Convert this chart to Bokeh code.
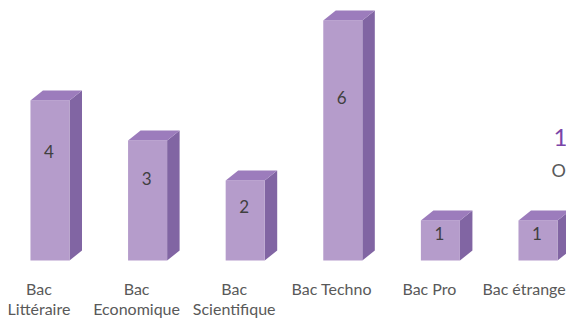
from bokeh.plotting import figure
from bokeh.models import Range1d, Label, ColumnDataSource
from bokeh.embed import file_html
from bokeh.resources import INLINE
from bokeh.core.properties import value

# ---- data ----
categories = ["Bac\nLittéraire", "Bac\nEconomique", "Bac\nScientifique",
              "Bac Techno", "Bac Pro", "Bac étranger"]
counts = [4, 3, 2, 6, 1, 1]

# ---- style constants ----
HALF_W = 0.2      # half width of front face (x units)
DX = 0.128        # depth offset in x
DY = 0.25         # depth offset in y
LABEL_FRAC = 0.68 # vertical position of value label within bar
FRONT = "#B59CCB"
TOP = "#9C7CBC"
SIDE = "#8165A3"
FONT = "Lato"

xs = list(range(len(categories)))

front = dict(xs=[], ys=[])
top = dict(xs=[], ys=[])
side = dict(xs=[], ys=[])
for i, v in zip(xs, counts):
    x0, x1 = i - HALF_W, i + HALF_W
    front["xs"].append([x0, x1, x1, x0])
    front["ys"].append([0, 0, v, v])
    top["xs"].append([x0, x1, x1 + DX, x0 + DX])
    top["ys"].append([v, v, v + DY, v + DY])
    side["xs"].append([x1, x1 + DX, x1 + DX, x1])
    side["ys"].append([0, DY, v + DY, v])

p = figure(width=566, height=318,
           x_range=Range1d(-0.507, 5.292), y_range=Range1d(-1.45, 6.5),
           output_backend="svg", toolbar_location=None,
           x_axis_type=None, y_axis_type=None,
           min_border=0)
p.outline_line_color = None
p.background_fill_color = "white"
p.border_fill_color = "white"
p.xgrid.visible = False
p.ygrid.visible = False

p.patches("xs", "ys", source=ColumnDataSource(side), fill_color=SIDE, line_color=None)
p.patches("xs", "ys", source=ColumnDataSource(front), fill_color=FRONT, line_color=None)
p.patches("xs", "ys", source=ColumnDataSource(top), fill_color=TOP, line_color=None)

# value labels inside the bars
p.text(x=xs, y=[v * LABEL_FRAC for v in counts], text=[str(v) for v in counts],
       text_align="center", text_baseline="middle",
       text_font=value(FONT), text_font_size="17px", text_color="#404040",
       x_offset=-1)

# category labels under the bars (shifted slightly left, as in the perspective view)
p.text(x=xs, y=[0] * len(xs), text=categories,
       text_align="center", text_baseline="top",
       text_font=value(FONT), text_font_size="16px", text_color="#595959",
       text_line_height=1.07, x_offset=-11, y_offset=18)

p.add_layout(Label(x=553, y=181, x_units="screen", y_units="screen", text="1",
                   text_font=FONT, text_font_size="24px", text_color="#7A45A8",
                   text_baseline="middle", text_align="left"))
p.add_layout(Label(x=551, y=149, x_units="screen", y_units="screen", text="O",
                   text_font=FONT, text_font_size="18px", text_color="#595959",
                   text_baseline="middle", text_align="left"))

open("out.html", "w").write(file_html(p, INLINE))
